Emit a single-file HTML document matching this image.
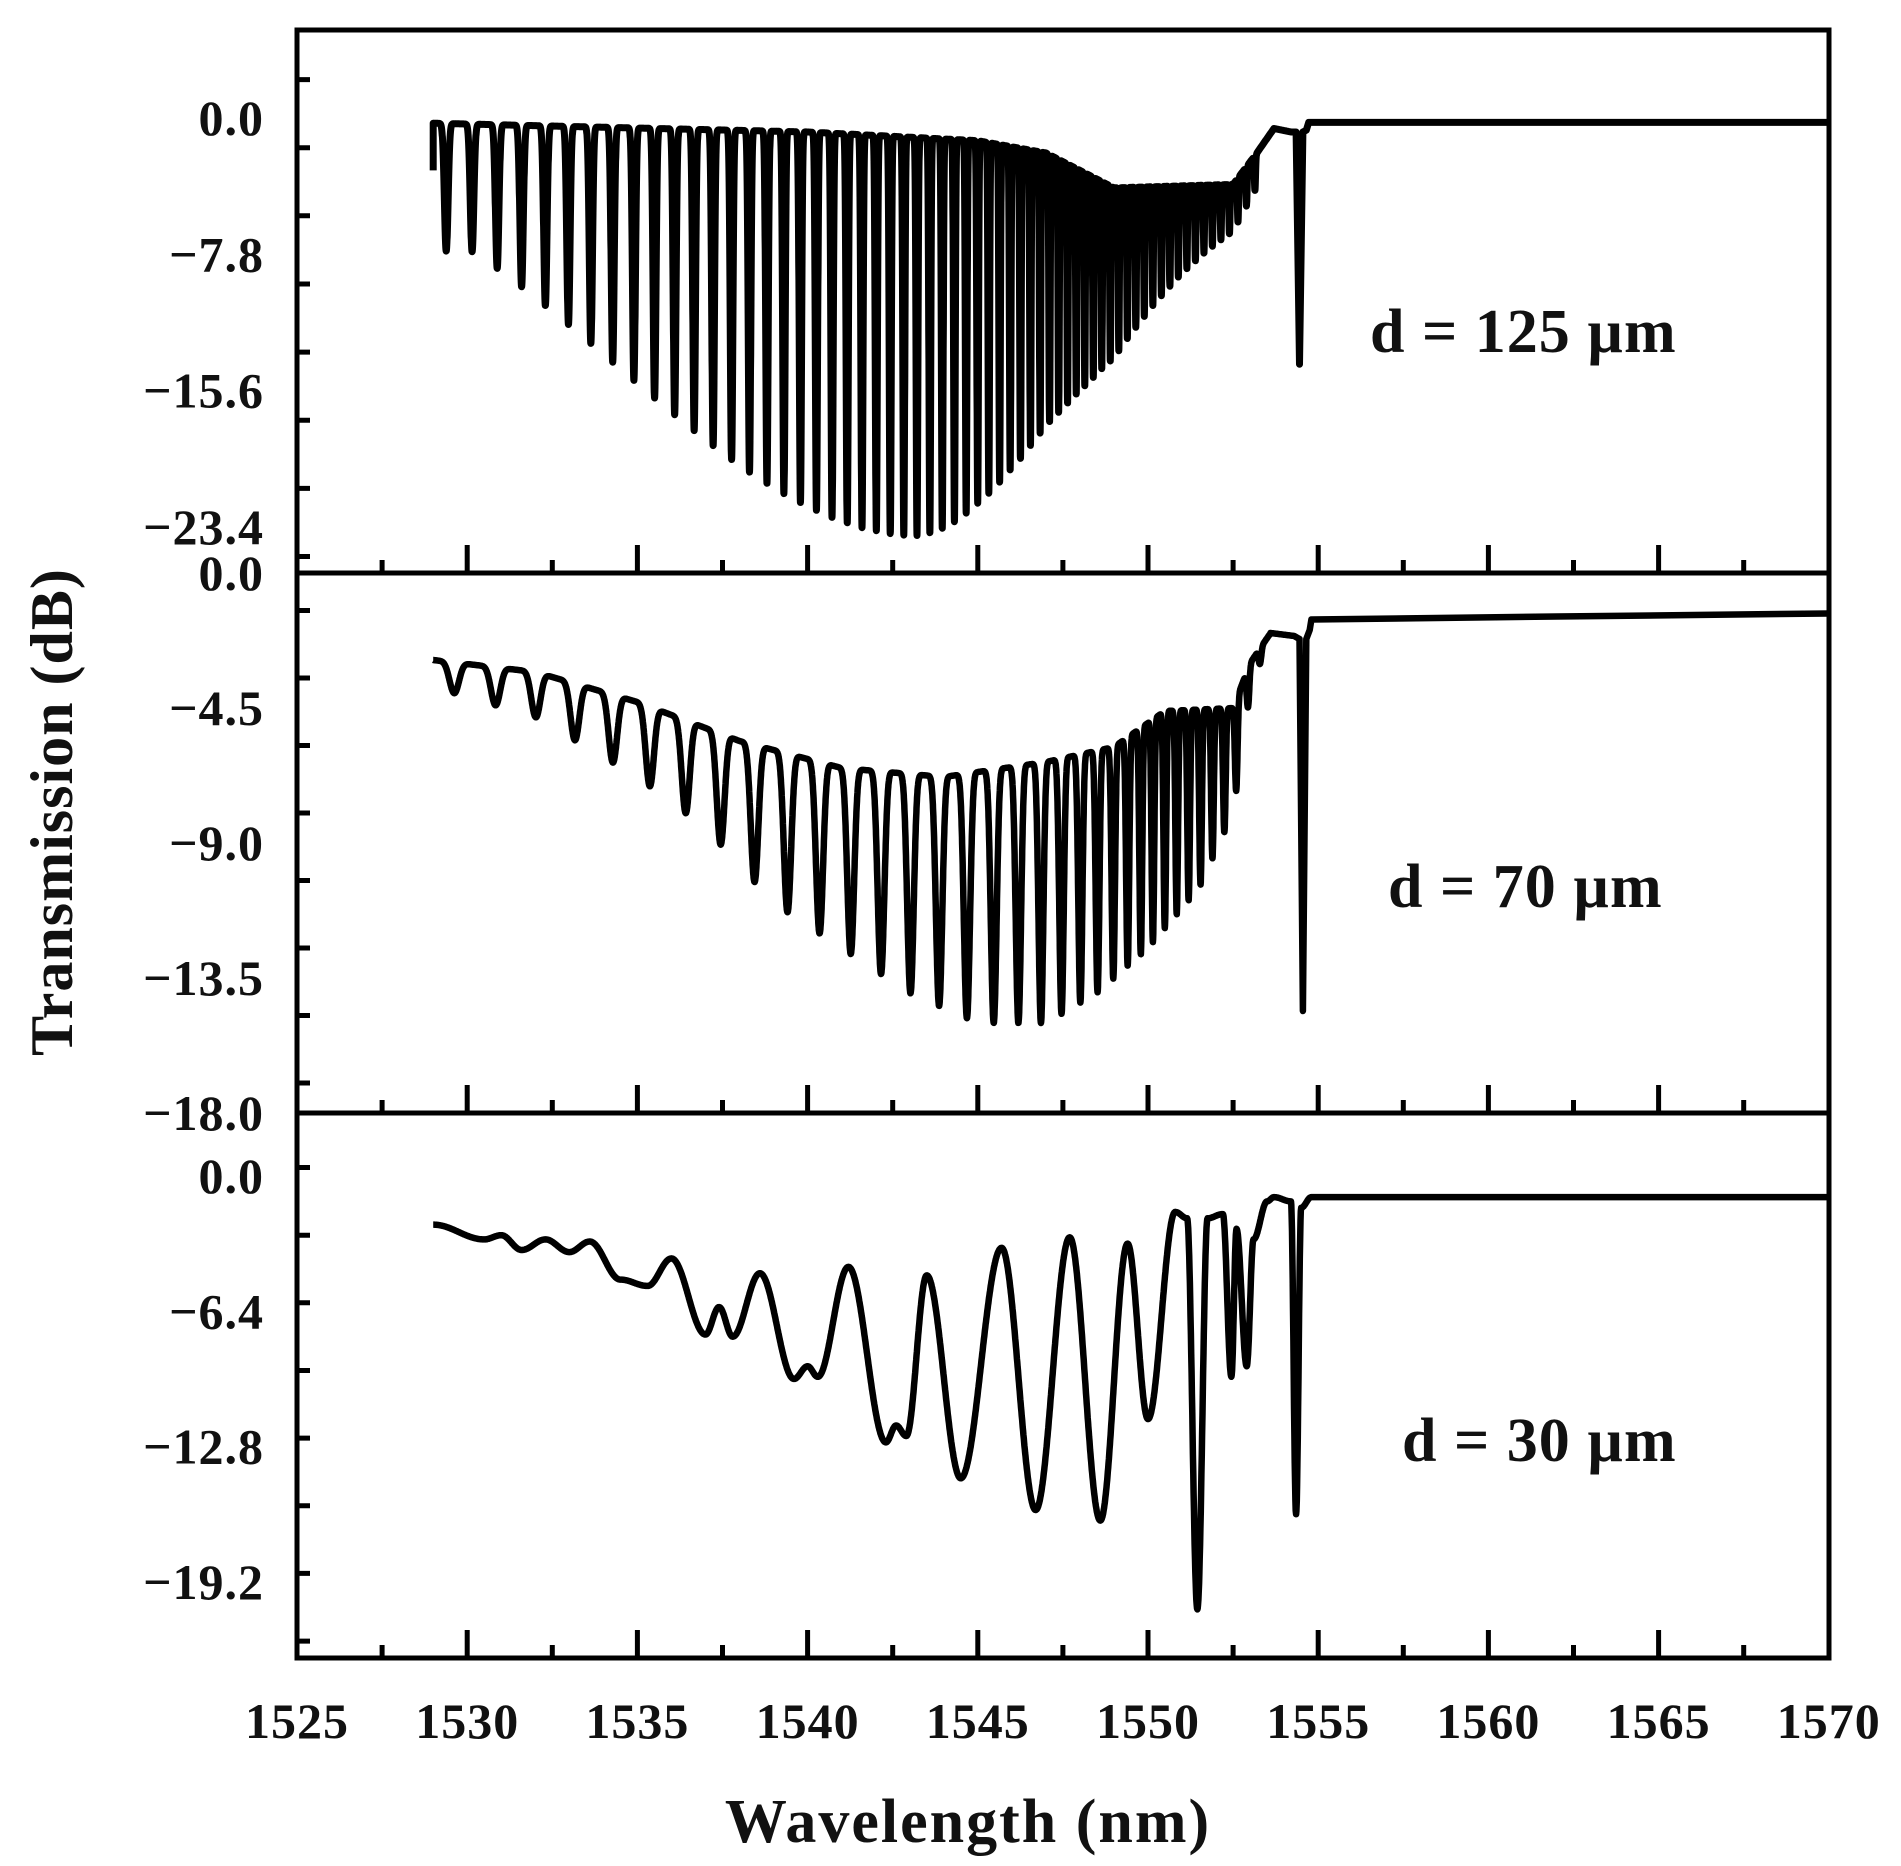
<!DOCTYPE html>
<html><head><meta charset="utf-8">
<style>
html,body{margin:0;padding:0;background:#fff;}
svg{display:block;}
text{font-family:"Liberation Serif",serif;font-weight:bold;fill:#111;}
</style></head>
<body>
<svg id="s" width="1901" height="1866" viewBox="0 0 1901 1866" xmlns="http://www.w3.org/2000/svg">
<g id="ax" stroke="#000" stroke-width="5" fill="none"></g>
<g id="data" stroke="#000" stroke-width="6.5" fill="none" stroke-linejoin="round"></g>
<g id="lab" font-size="50" text-anchor="end" letter-spacing="1"></g>
<text x="1370" y="352" font-size="62" letter-spacing="1">d = 125 µm</text>
<text x="1388" y="907" font-size="62" letter-spacing="1">d = 70 µm</text>
<text x="1402" y="1461" font-size="62" letter-spacing="1">d = 30 µm</text>
<text x="968" y="1842" font-size="62" text-anchor="middle" letter-spacing="2">Wavelength (nm)</text>
<text transform="translate(72,812) rotate(-90)" font-size="60" text-anchor="middle" fill="#2a1a10" letter-spacing="1">Transmission (dB)</text>
</svg>
<script>
var NS="http://www.w3.org/2000/svg";
var L=297,R=1829,T=30,B=1658;
function X(l){return L+(l-1525)*34.04;}
var panels=[
 {top:30,bot:573,y0:118,k:17.47,major:7.8,minor:3.9,labels:["0.0","\u22127.8","\u221215.6","\u221223.4"]},
 {top:573,bot:1113,y0:573,k:30.0,major:4.5,minor:2.25,labels:["0.0","\u22124.5","\u22129.0","\u221213.5","\u221218.0"]},
 {top:1113,bot:1658,y0:1176,k:21.14,major:6.4,minor:3.2,labels:["0.0","\u22126.4","\u221212.8","\u221219.2"]}
];
var ax=document.getElementById('ax'),lab=document.getElementById('lab'),dg=document.getElementById('data');
function el(p,t,a,txt){var e=document.createElementNS(NS,t);for(var k in a)e.setAttribute(k,a[k]);if(txt)e.textContent=txt;p.appendChild(e);return e;}
el(ax,'rect',{x:L,y:T,width:R-L,height:B-T});
var d="";
panels.forEach(function(p,i){
 if(i>0) d+="M"+L+" "+p.top+"H"+R;
 for(var v=10;v>=-30;v-=p.minor){
  var y=p.y0-v*p.k; if(y<=p.top+3||y>=p.bot-3) continue;
  var isMaj=Math.abs(Math.round(v/p.major)*p.major-v)<1e-6;
  d+="M"+L+" "+y.toFixed(1)+"h"+(isMaj?27:13);
 }
 for(var l=1527.5;l<1570;l+=2.5){
  var x=X(l),maj=Math.abs(l%5)<1e-6;
  d+="M"+x.toFixed(1)+" "+p.bot+"v-"+(maj?28:13);
 }
 p.labels.forEach(function(s,j){
  var y=p.y0+j*p.major*p.k;
  el(lab,'text',{x:264,y:(y+17).toFixed(1)},s);
 });
});
el(ax,'path',{d:d});
for(var l=1525;l<=1570;l+=5) el(lab,'text',{x:X(l).toFixed(1),y:1738,'text-anchor':'middle'},""+l);

function pw(pts,l){if(l<=pts[0][0])return pts[0][1];for(var i=1;i<pts.length;i++){if(l<=pts[i][0]){var a=pts[i-1],b=pts[i];return a[1]+(b[1]-a[1])*(l-a[0])/(b[0]-a[0]);}}return pts[pts.length-1][1];}
function cs(pts,l){if(l<=pts[0][0])return pts[0][1];for(var i=1;i<pts.length;i++){if(l<=pts[i][0]){var a=pts[i-1],b=pts[i];var t=(l-a[0])/(b[0]-a[0]);t=(1-Math.cos(Math.PI*t))/2;return a[1]+(b[1]-a[1])*t;}}return pts[pts.length-1][1];}
function path(p,pts,sw){var s="";pts.forEach(function(q,i){s+=(i?"L":"M")+X(q[0]).toFixed(1)+" "+(p.y0-q[1]*p.k).toFixed(1);});var a={d:s};if(sw)a['stroke-width']=sw;el(dg,'path',a);}

// Panel 1
(function(){
 var p=panels[0],pts=[[1529.0,-3]],phi=0.5,top=[[1529,-0.3],[1540,-0.8],[1545,-1.3],[1547,-2],[1549,-4.0],[1552.5,-3.8],[1553.2,-2],[1553.7,-0.6],[1554.2,-0.8]];
 for(var l=1529.0;l<1554.2;l+=0.003){
  var per=Math.max(0.25,0.78-(l-1529)*0.028);
  phi+=0.003/per;
  var dep;
  if(l<1543) dep=Math.max(7.3,22.8*Math.exp(-Math.pow((l-1543)/12,2)));
  else dep=22.8*Math.exp(-Math.pow((l-1543)/6.5,2));
  if(l>1553.3) dep=0;
  var g=Math.pow((1+Math.cos(2*Math.PI*phi))/2,10);
  pts.push([l,pw(top,l)-dep*g]);
 }
 pts.push([1554.35,-0.8],[1554.45,-14.1],[1554.55,-0.8],[1554.65,-0.7],[1554.72,-0.25],[1570,-0.25]);
 path(p,pts,7);
})();
// Panel 2
(function(){
 var p=panels[1],pts=[],phi=0,
 top=[[1529,-2.9],[1532,-3.3],[1535,-4.3],[1538,-5.6],[1541,-6.5],[1544,-6.8],[1547,-6.3],[1549,-5.8],[1550.5,-4.6],[1552.5,-4.5],[1553,-3],[1553.6,-2],[1554.3,-2.1]],
 bot=[[1529,-3.8],[1532,-4.8],[1535,-6.8],[1537,-8.5],[1539,-11],[1541,-12.5],[1543,-14],[1545,-15],[1547,-15],[1548.5,-14],[1550,-12.5],[1551.5,-10.5],[1552.5,-8],[1553,-4],[1553.6,-2],[1554.3,-2.1]];
 for(var l=1529.0;l<1554.3;l+=0.005){
  var per=l<1545?1.25-0.0283*(l-1529):Math.max(0.35,0.8-0.09*(l-1545));
  phi+=0.005/per;
  var t=pw(top,l),b=pw(bot,l);
  var g=Math.pow((1-Math.cos(2*Math.PI*phi))/2,4);
  pts.push([l,t-(t-b)*g]);
 }
 pts.push([1554.45,-2.2],[1554.55,-14.6],[1554.65,-2.2],[1554.75,-1.9],[1554.8,-1.55],[1562,-1.45],[1570,-1.35]);
 path(p,pts);
})();
// Panel 3
(function(){
 var p=panels[2],ctl=[[1529,-2.3],[1530.5,-3],[1531,-2.8],[1531.6,-3.5],[1532.3,-3.0],[1533,-3.6],[1533.6,-3.1],[1534.5,-4.9],[1535.3,-5.2],[1536,-3.9],[1537,-7.5],[1537.4,-6.2],[1537.8,-7.6],[1538.6,-4.6],[1539.6,-9.6],[1540,-9.0],[1540.3,-9.5],[1541.2,-4.3],[1542.3,-12.6],[1542.6,-11.8],[1542.9,-12.3],[1543.5,-4.7],[1544.5,-14.3],[1545.7,-3.4],[1546.7,-15.8],[1547.7,-2.9],[1548.6,-16.3],[1549.4,-3.2],[1550.0,-11.5],[1550.8,-1.7],[1551.15,-2.0],[1551.45,-20.5],[1551.75,-2.0],[1552.2,-1.8],[1552.45,-9.5],[1552.6,-2.5],[1552.9,-9.0],[1553.1,-3],[1553.5,-1.2],[1553.7,-1.0],[1554.2,-1.2],[1554.35,-16],[1554.5,-1.5],[1554.8,-1.0],[1570,-1.0]];
 var pts=[];
 for(var l=1529;l<1570;l+=0.01) pts.push([l,cs(ctl,l)]);
 pts.push([1570,-1.0]);
 path(p,pts);
})();
</script>
</body></html>
